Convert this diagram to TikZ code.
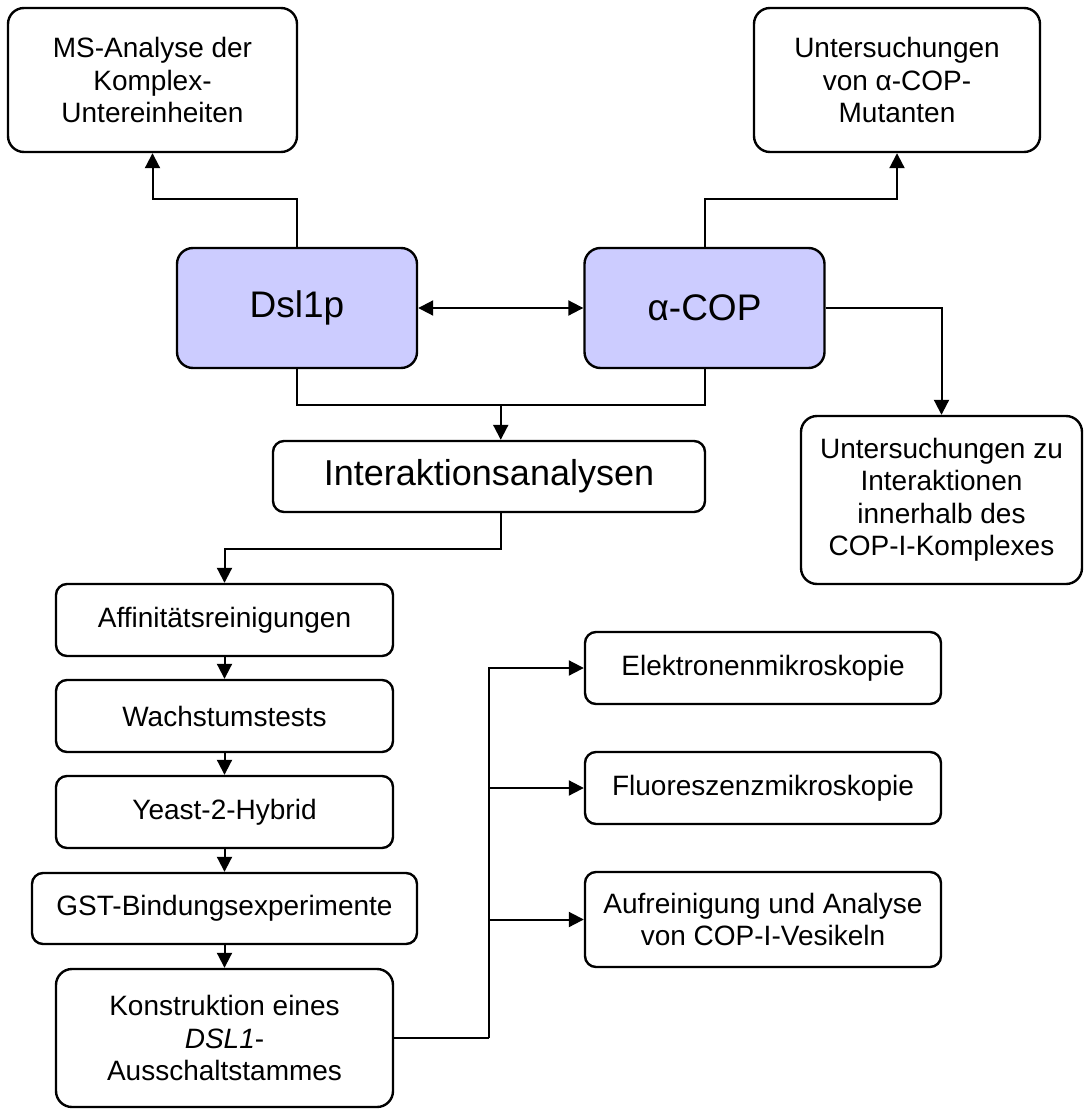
\documentclass[tikz,border=0pt]{standalone}
\usepackage{fontspec}
\setmainfont{Liberation Sans}
\usepackage{tikz}
\usetikzlibrary{arrows.meta,calc}
\definecolor{lila}{RGB}{204,204,255}
\newcommand\Lx{224.5}

\begin{document}
\begin{tikzpicture}[x=1pt,y=-1pt,>={Triangle[length=15pt,width=15pt]},
                    line width=2pt]

  \tikzstyle{box}=[draw,rounded corners=11pt,align=center,inner sep=0pt,
                   line width=2.4pt,font=\fontsize{28}{32.5}\selectfont]
  \tikzstyle{big}=[box,rounded corners=16pt]
  \tikzstyle{main}=[big,fill=lila,minimum width=240,minimum height=120,
                    font=\fontsize{37}{44}\selectfont]

  \useasboundingbox (0,0) rectangle (1084,1110);

  \node[big,minimum width=289,minimum height=144] (ms) at (152.5,80) {MS-Analyse der\\Komplex-\\Untereinheiten};
  \node[big,minimum width=286,minimum height=144] (mut) at (897,80) {Untersuchungen\\von α-COP-\\Mutanten};

  \node[main] (dsl) at (297,308) {Dsl1p};  \node[main] (cop) at (704.5,308) {α-COP};

  \node[box,minimum width=432,minimum height=71,font=\fontsize{36}{40}\selectfont] (ia) at (489,476.5) {Interaktionsanalysen};
  \node[big,minimum width=281,minimum height=168] (cpx) at (941.5,500) {Untersuchungen zu\\Interaktionen\\innerhalb des\\COP-I-Komplexes};

  % linke Spalte
  \node[box,minimum width=337,minimum height=72] (aff) at (\Lx,620) {Affinitätsreinigungen};
  \node[box,minimum width=337,minimum height=72] (wt) at (\Lx,716) {Wachstumstests};
  \node[box,minimum width=337,minimum height=72] (y2h) at (\Lx,812) {Yeast-2-Hybrid};
  \node[box,minimum width=385,minimum height=71] (gst) at (\Lx,908.5) {GST-Bindungsexperimente};
  \node[big,minimum width=337,minimum height=138] (ko) at (\Lx,1038) {Konstruktion eines\\\textit{DSL1}-\\Ausschaltstammes};

  % rechte Spalte
  \node[box,minimum width=356,minimum height=72] (em) at (763,668) {Elektronenmikroskopie};
  \node[box,minimum width=356,minimum height=72] (fm) at (763,788) {Fluoreszenzmikroskopie};
  \node[box,minimum width=356,minimum height=95] (ves) at (763,919.5) {Aufreinigung und Analyse\\von COP-I-Vesikeln};

  \draw[->] (dsl.north) -- ++(0,-48) -| (ms.south);
  \draw[->] (cop.north) -- ++(0,-48) -| (mut.south);
  \draw[<->] (dsl) -- (cop);
  \draw[->] (cop.east) -| (cpx.north);

  \draw (dsl.south) -- ++(0,36) coordinate (m0) -| (cop.south);
  \coordinate (m1) at ($(m0)!.5!(m0 -| cop.south)$);
  \draw[->] (m1) -- (m1 |- ia.north);
  \draw[->] (m1 |- ia.south) -- ++(0,36) -| (aff.north);

  \draw[->] (aff) -- (wt);
  \draw[->] (wt) -- (y2h);
  \draw[->] (y2h) -- (gst);
  \draw[->] (gst) -- (ko);

  \draw (ko.east) -- ++(95,0) coordinate (br);
  \draw[->] (br) |- (em.west);
  \draw[->] (br |- fm.west) -- (fm.west);
  \draw[->] (br |- ves.west) -- (ves.west);

\end{tikzpicture}
\end{document}
